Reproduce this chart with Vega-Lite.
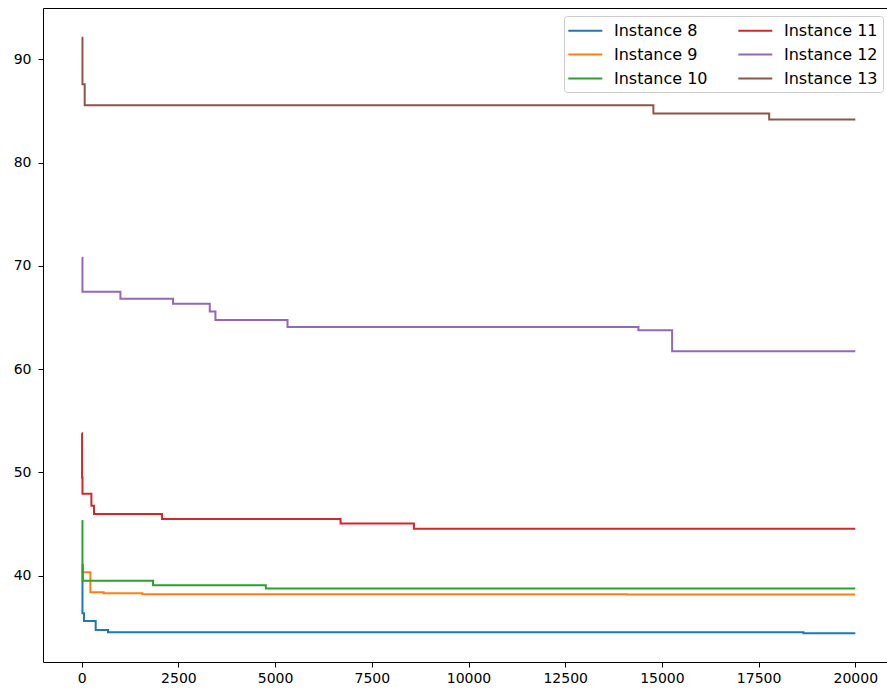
{
  "$schema": "https://vega.github.io/schema/vega-lite/v6.json",
  "autosize": "none",
  "padding": {"left": 43, "top": 8, "right": 0, "bottom": 29},
  "width": 844,
  "height": 654,
  "background": "white",
  "config": {
    "view": {"stroke": null},
    "font": "DejaVu Sans",
    "axis": {
      "labelFont": "DejaVu Sans",
      "labelFontSize": 14,
      "labelColor": "black",
      "domainColor": "black",
      "domainWidth": 1,
      "tickColor": "black",
      "tickWidth": 1,
      "tickSize": 5,
      "labelPadding": 4,
      "grid": false,
      "title": null
    }
  },
  "data": {
    "values": [
      {"series": "Instance 8", "x": 0, "y": 40.5},
      {"series": "Instance 8", "x": 20, "y": 36.35},
      {"series": "Instance 8", "x": 60, "y": 35.6},
      {"series": "Instance 8", "x": 362, "y": 34.73},
      {"series": "Instance 8", "x": 681, "y": 34.5},
      {"series": "Instance 8", "x": 18660, "y": 34.41},
      {"series": "Instance 8", "x": 20000, "y": 34.41},

      {"series": "Instance 9", "x": 0, "y": 41.0},
      {"series": "Instance 9", "x": 10, "y": 40.33},
      {"series": "Instance 9", "x": 225, "y": 38.39},
      {"series": "Instance 9", "x": 570, "y": 38.29},
      {"series": "Instance 9", "x": 1570, "y": 38.2},
      {"series": "Instance 9", "x": 14090, "y": 38.16},
      {"series": "Instance 9", "x": 20000, "y": 38.16},

      {"series": "Instance 10", "x": 0, "y": 45.3},
      {"series": "Instance 10", "x": 20, "y": 41.04},
      {"series": "Instance 10", "x": 30, "y": 39.5},
      {"series": "Instance 10", "x": 1845, "y": 39.07},
      {"series": "Instance 10", "x": 4760, "y": 38.76},
      {"series": "Instance 10", "x": 20000, "y": 38.76},

      {"series": "Instance 11", "x": 0, "y": 53.8},
      {"series": "Instance 11", "x": 10, "y": 49.5},
      {"series": "Instance 11", "x": 20, "y": 47.92},
      {"series": "Instance 11", "x": 251, "y": 46.76},
      {"series": "Instance 11", "x": 319, "y": 45.96},
      {"series": "Instance 11", "x": 2078, "y": 45.47},
      {"series": "Instance 11", "x": 6692, "y": 45.04},
      {"series": "Instance 11", "x": 8589, "y": 44.53},
      {"series": "Instance 11", "x": 20000, "y": 44.53},

      {"series": "Instance 12", "x": 0, "y": 70.8},
      {"series": "Instance 12", "x": 20, "y": 67.5},
      {"series": "Instance 12", "x": 1001, "y": 66.81},
      {"series": "Instance 12", "x": 2362, "y": 66.32},
      {"series": "Instance 12", "x": 3311, "y": 65.58},
      {"series": "Instance 12", "x": 3458, "y": 64.77},
      {"series": "Instance 12", "x": 5321, "y": 64.09},
      {"series": "Instance 12", "x": 14393, "y": 63.76},
      {"series": "Instance 12", "x": 15264, "y": 61.72},
      {"series": "Instance 12", "x": 20000, "y": 61.72},

      {"series": "Instance 13", "x": 0, "y": 92.1},
      {"series": "Instance 13", "x": 20, "y": 87.6},
      {"series": "Instance 13", "x": 78, "y": 85.55},
      {"series": "Instance 13", "x": 14780, "y": 84.75},
      {"series": "Instance 13", "x": 17773, "y": 84.17},
      {"series": "Instance 13", "x": 20000, "y": 84.17}
    ]
  },
  "layer": [
    {
      "mark": {"type": "rule", "opacity": 0},
      "encoding": {
        "x": {
          "field": "x", "type": "quantitative",
          "scale": {"domain": [-1000, 20819], "nice": false, "zero": false},
          "axis": {"orient": "top", "labels": false, "ticks": false, "domain": true}
        }
      }
    },
    {
      "mark": {"type": "line", "interpolate": "step-after", "strokeWidth": 2},
      "encoding": {
        "x": {
          "field": "x", "type": "quantitative",
          "scale": {"domain": [-1000, 20819], "nice": false, "zero": false},
          "axis": {"orient": "bottom", "values": [0, 2500, 5000, 7500, 10000, 12500, 15000, 17500, 20000], "format": "d"}
        },
        "y": {
          "field": "y", "type": "quantitative",
          "scale": {"domain": [31.63, 94.98], "nice": false, "zero": false},
          "axis": {"values": [40, 50, 60, 70, 80, 90], "format": "d", "labelPadding": 7}
        },
        "color": {
          "field": "series", "type": "nominal",
          "scale": {
            "domain": ["Instance 8", "Instance 9", "Instance 10", "Instance 11", "Instance 12", "Instance 13"],
            "range": ["#1f77b4", "#ff7f0e", "#2ca02c", "#d62728", "#9467bd", "#8c564b"]
          },
          "legend": {
            "title": null,
            "orient": "none",
            "legendX": 521,
            "legendY": 8,
            "columns": 2,
            "symbolType": "M-1.2,0L2.8,0",
            "symbolSize": 289,
            "symbolStrokeWidth": 2,
            "labelFont": "DejaVu Sans",
            "labelFontSize": 16,
            "labelColor": "black",
            "labelOffset": 26,
            "labelLimit": 300,
            "rowPadding": 6,
            "columnPadding": 26,
            "padding": 5,
            "strokeColor": "#cccccc",
            "fillColor": "rgba(255,255,255,0.8)",
            "cornerRadius": 3
          }
        },
        "order": {"field": "x", "type": "quantitative"}
      }
    }
  ],
  "resolve": {"axis": {"x": "independent"}}
}
